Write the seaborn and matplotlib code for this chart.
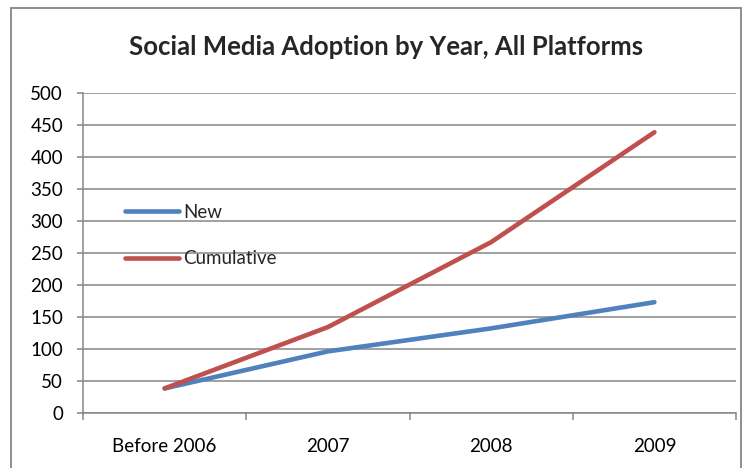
import matplotlib
matplotlib.use("Agg")
import matplotlib.pyplot as plt
from matplotlib.patches import Rectangle
from matplotlib.lines import Line2D
import seaborn as sns
import pandas as pd

categories = ["Before 2006", "2007", "2008", "2009"]
new_values = [38, 96, 132, 173]
cumulative_values = [38, 134, 267, 439]
y_ticks = [0, 50, 100, 150, 200, 250, 300, 350, 400, 450, 500]
title = "Social Media Adoption by Year, All Platforms"

sns.set_style("white")
plt.rcParams["font.family"] = ["Lato", "DejaVu Sans"]

df = pd.DataFrame({
    "Year": categories * 2,
    "Value": new_values + cumulative_values,
    "Series": ["New"] * len(categories) + ["Cumulative"] * len(categories),
})
df["x"] = list(range(len(categories))) * 2

W, H = 755, 468
fig = plt.figure(figsize=(W / 100, H / 100), dpi=100)
ax = fig.add_axes([83 / W, 1 - 412.7 / H, (736 - 83) / W, (412.7 - 93.3) / H])

grid_c = "#868686"
palette = {"New": "#4F81BD", "Cumulative": "#C0504D"}
sns.lineplot(data=df, x="x", y="Value", hue="Series", palette=palette,
             linewidth=3.3, ax=ax, legend=False, solid_capstyle="round",
             solid_joinstyle="round")

ax.set_xlim(-0.5, len(categories) - 0.5)
ax.set_ylim(0, 500)
ax.set_yticks(y_ticks)
ax.set_yticklabels([str(v) for v in y_ticks])
ax.yaxis.grid(True, color=grid_c, linewidth=1.1)
ax.set_axisbelow(True)

ax.set_xticks([i - 0.5 for i in range(len(categories) + 1)])
ax.set_xticklabels([""] * (len(categories) + 1))
ax.set_xticks(range(len(categories)), minor=True)
ax.set_xticklabels(categories, minor=True)
ax.tick_params(axis="x", which="major", direction="out", length=5, width=1.1,
               color=grid_c, bottom=True)
ax.tick_params(axis="x", which="minor", length=0, pad=18, labelsize=13.5,
               labelcolor="black")
ax.tick_params(axis="y", direction="out", length=4.3, width=1.1, color=grid_c,
               left=True, pad=10, labelsize=13.5, labelcolor="black")
ax.set_xlabel("")
ax.set_ylabel("")

for s in ["top", "right"]:
    ax.spines[s].set_visible(False)
for s in ["left", "bottom"]:
    ax.spines[s].set_color(grid_c)
    ax.spines[s].set_linewidth(1.1)

handles = [Line2D([], [], color=palette[k], linewidth=3.3, solid_capstyle="round")
           for k in ["New", "Cumulative"]]
leg = fig.legend(handles, ["New", "Cumulative"], loc="upper left",
                 bbox_to_anchor=(125 / W, 1 - 204 / H), frameon=False,
                 fontsize=13.5, handlelength=2.9, handletextpad=0.22,
                 labelspacing=1.55, borderpad=0, borderaxespad=0)

fig.text(386 / W, 1 - 47 / H, title, ha="center", va="center",
         fontsize=18.5, fontweight="bold")

fig.patches.append(Rectangle((10.5 / W, -0.1), (741 - 10.5) / W, 1.1 - 8 / H,
                             transform=fig.transFigure, fill=False,
                             edgecolor=grid_c, linewidth=1.3))

fig.savefig("out.png", dpi=100)
